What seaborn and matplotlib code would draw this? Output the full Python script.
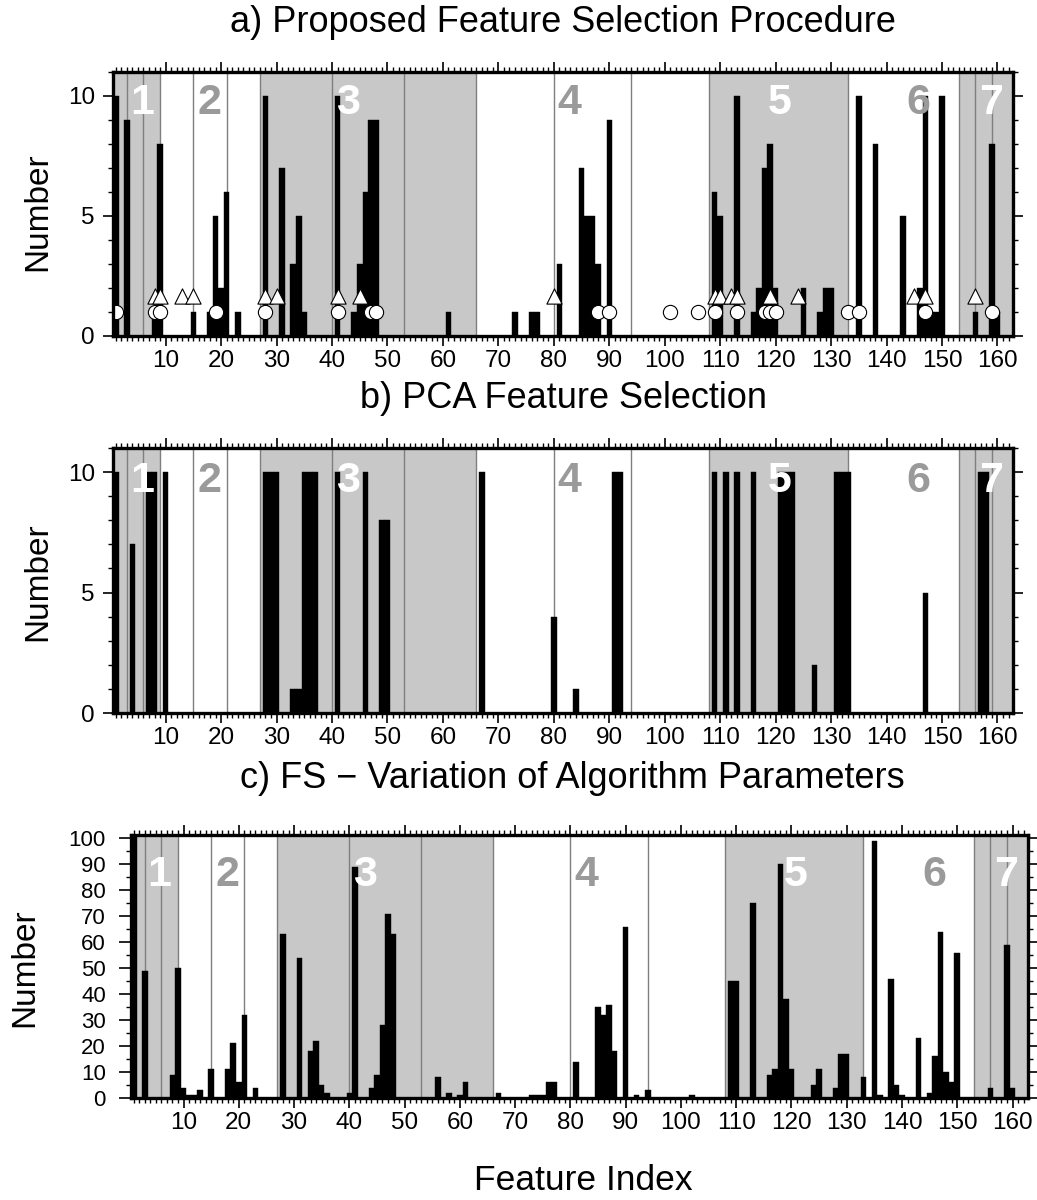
import matplotlib
matplotlib.use("Agg")
import matplotlib.pyplot as plt
from matplotlib.ticker import MultipleLocator
import seaborn as sns

sns.set_theme(style="white")
plt.rcParams['font.family'] = ['Liberation Sans', 'DejaVu Sans']
plt.rcParams['text.color'] = 'black'
plt.rcParams['axes.labelcolor'] = 'black'
plt.rcParams['xtick.color'] = 'black'
plt.rcParams['ytick.color'] = 'black'

# ---------------- data ----------------
# panel a: proposed feature selection (number of selections per feature)
a_idx = [1, 3, 8, 9, 15, 18, 19, 20, 21, 23, 28, 31, 33, 34, 35, 41, 44, 45, 46, 47, 48,
         61, 73, 76, 77, 81, 85, 86, 87, 88, 90, 109, 110, 113, 116, 117, 118, 119, 120,
         125, 128, 129, 130, 135, 138, 143, 146, 147, 148, 149, 150, 156, 159, 160]
a_val = [10, 9, 1, 8, 1, 1, 5, 2, 6, 1, 10, 7, 3, 5, 1, 10, 1, 3, 6, 9, 9,
         1, 1, 1, 1, 3, 7, 5, 5, 3, 9, 6, 5, 10, 1, 2, 7, 8, 2,
         2, 1, 2, 2, 10, 8, 5, 2, 10, 1, 1, 10, 1, 8, 1]
a_circles = [1, 8, 9, 19, 28, 41, 47, 48, 88, 90, 101, 106, 109, 113, 118, 119, 120,
             133, 135, 147, 159]
a_triangles = [8, 9, 13, 15, 28, 30, 41, 45, 80, 109, 110, 112, 113, 119, 124, 145, 147, 156]

# panel b: PCA feature selection
b_idx = [1, 4, 7, 8, 10, 28, 29, 30, 33, 34, 35, 36, 37, 41, 46, 49, 50, 67, 80, 84, 91, 92,
         109, 111, 113, 116, 121, 122, 123, 127, 131, 132, 133, 147, 157, 158]
b_val = [10, 7, 10, 10, 10, 10, 10, 10, 1, 1, 10, 10, 10, 10, 10, 8, 8, 10, 4, 1, 10, 10,
         10, 10, 10, 10, 10, 10, 10, 2, 10, 10, 10, 5, 10, 10]

# panel c: variation of algorithm parameters
c_idx = [1, 3, 8, 9, 10, 11, 12, 13, 15, 18, 19, 20, 21, 23, 28, 31, 33, 34, 35, 36, 40, 41,
         44, 45, 46, 47, 48, 56, 58, 60, 61, 67, 73, 74, 75, 76, 77, 81, 85, 86, 87, 88, 90,
         92, 94, 102, 109, 110, 113, 116, 117, 118, 119, 120, 124, 125, 128, 129, 130, 133,
         135, 136, 138, 139, 140, 143, 145, 146, 147, 148, 149, 150, 156, 159, 160]
c_val = [101, 49, 9, 50, 4, 1, 1, 3, 11, 11, 21, 6, 32, 4, 63, 54, 18, 22, 5, 2, 2, 89,
         4, 9, 28, 71, 63, 8, 2, 1, 6, 2, 1, 1, 1, 6, 6, 14, 35, 32, 36, 18, 66,
         1, 3, 1, 45, 45, 75, 9, 11, 90, 38, 11, 5, 11, 4, 17, 17, 8,
         99, 1, 46, 5, 1, 23, 2, 16, 64, 10, 6, 56, 4, 59, 4]

# group structure
gray_bands = [(0.0, 9), (27, 66), (108, 133), (153, 165)]
group_lines = [3, 6, 9, 15, 21, 27, 40, 53, 66, 80, 94, 108, 133, 153, 156, 159]
group_names = ["1", "2", "3", "4", "5", "6", "7"]
group_label_x = [5.7, 17.9, 42.8, 82.8, 120.8, 145.8, 158.9]
group_label_on_gray = [True, False, True, False, True, False, True]

titles = ["a) Proposed Feature Selection Procedure",
          "b) PCA Feature Selection",
          "c) FS \u2212 Variation of Algorithm Parameters"]

# ---------------- layout ----------------
W, H = 1037, 1200
fig = plt.figure(figsize=(W / 100, H / 100), dpi=100)

def axes_px(l, r, t, b):
    return fig.add_axes([l / W, 1 - b / H, (r - l) / W, (b - t) / H])

ax_a = axes_px(113, 1013, 72, 336)
ax_b = axes_px(113, 1013, 448, 713)
ax_c = axes_px(131, 1028, 835, 1098)

XLIM = (0.5, 162.8)
GRAY = "#c8c8c8"
LINE = "#7f7f7f"
LABEL_GRAY = "#9a9a9a"


def decorate(ax, ymax, label_y, ymaj, ymin_step, ylab_size, ymaj_len, ypad):
    ax.set_xlim(*XLIM)
    ax.set_ylim(0, ymax)
    for x0, x1 in gray_bands:
        ax.axvspan(x0, x1, color=GRAY, lw=0, zorder=0)
    for x in group_lines:
        ax.axvline(x, color=LINE, lw=1.0, zorder=0.5)
    for name, gx, on_gray in zip(group_names, group_label_x, group_label_on_gray):
        ax.text(gx, label_y, name, ha="center", va="center", fontsize=31,
                fontweight="bold", color="white" if on_gray else LABEL_GRAY, zorder=10)
    ax.xaxis.set_major_locator(MultipleLocator(10))
    ax.xaxis.set_minor_locator(MultipleLocator(1))
    ax.yaxis.set_major_locator(MultipleLocator(ymaj))
    ax.yaxis.set_minor_locator(MultipleLocator(ymin_step))
    ax.tick_params(axis="both", which="both", direction="out", top=True, right=True,
                   bottom=True, left=True, labeltop=False, labelright=False, color="black")
    ax.tick_params(axis="both", which="major", length=7, width=1.2)
    ax.tick_params(axis="both", which="minor", length=3.5, width=1.0)
    ax.tick_params(axis="x", which="major", labelsize=17.5, pad=3)
    ax.tick_params(axis="y", which="major", labelsize=ylab_size, pad=ypad, length=ymaj_len)
    ax.set_xticks([t for t in range(10, 161, 10)])
    for s in ax.spines.values():
        s.set_linewidth(2.4)
        s.set_color("black")
        s.set_zorder(20)
    ax.set_xlabel("")
    ax.set_ylabel("")


def bars(ax, idx, val):
    sns.histplot(x=idx, weights=val, discrete=True, shrink=1, color="black",
                 edgecolor="black", linewidth=0.3, alpha=1, ax=ax, zorder=3)


# panel a
bars(ax_a, a_idx, a_val)
sns.scatterplot(x=a_triangles, y=[1.65] * len(a_triangles), marker="^", s=120,
                color="white", edgecolor="black", linewidth=0.8, ax=ax_a, zorder=6)
sns.scatterplot(x=a_circles, y=[1.0] * len(a_circles), marker="o", s=105,
                color="white", edgecolor="black", linewidth=0.8, ax=ax_a, zorder=7)
decorate(ax_a, 11, 9.7, 5, 1, 17.5, 7, 6)

# panel b
bars(ax_b, b_idx, b_val)
decorate(ax_b, 11, 9.65, 5, 1, 17.5, 7, 6)

# panel c
bars(ax_c, c_idx, c_val)
decorate(ax_c, 101.3, 86, 10, 5, 16, 9, 9)

# texts
fig.text(563 / W, 1 - 22 / H, titles[0], ha="center", va="center", fontsize=26)
fig.text(563 / W, 1 - 398 / H, titles[1], ha="center", va="center", fontsize=26)
fig.text(572 / W, 1 - 778 / H, titles[2], ha="center", va="center", fontsize=26)
fig.text(583 / W, 1 - 1180 / H, "Feature Index", ha="center", va="center", fontsize=25.5)
fig.text(38 / W, 1 - 212 / H, "Number", ha="center", va="center", rotation=90, fontsize=24)
fig.text(38 / W, 1 - 582 / H, "Number", ha="center", va="center", rotation=90, fontsize=24)
fig.text(25 / W, 1 - 968 / H, "Number", ha="center", va="center", rotation=90, fontsize=24)

fig.savefig("out.png", dpi=100)
